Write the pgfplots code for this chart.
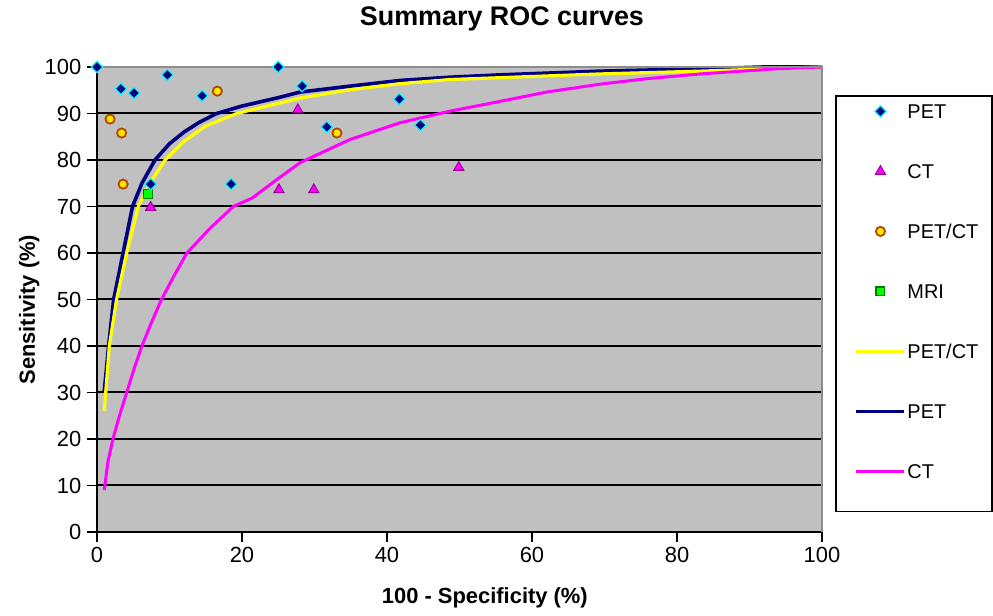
\documentclass[border=0pt]{standalone}
\usepackage{fontspec}
\setmainfont{Liberation Sans}
\usepackage{pgfplots}
\pgfplotsset{compat=1.18}

\definecolor{plotbg}{HTML}{C0C0C0}
\definecolor{plotedge}{HTML}{8C8C8C}
\definecolor{petblue}{HTML}{000080}
\definecolor{petcyan}{HTML}{00FFFF}
\definecolor{ctpink}{HTML}{FF00FF}
\definecolor{ctpurple}{HTML}{990099}
\definecolor{pcyellow}{HTML}{FFE800}
\definecolor{pcbrown}{HTML}{B34700}
\definecolor{mrigreen}{HTML}{00FF00}
\definecolor{mridark}{HTML}{008000}
\definecolor{curveyellow}{HTML}{FFFF00}

\pgfplotsset{
  petmark/.style={only marks, mark=square*, mark size=2.0bp,
    mark options={rotate=45, fill=petblue, draw=petcyan, line width=0.6bp}},
  ctmark/.style={only marks, mark=triangle*, mark size=2.9bp,
    mark options={fill=ctpink, draw=ctpurple, line width=0.5bp}},
  pcmark/.style={only marks, mark=*, mark size=2.3bp,
    mark options={fill=pcyellow, draw=pcbrown, line width=0.9bp}},
  mrimark/.style={only marks, mark=square*, mark size=2.2bp,
    mark options={fill=mrigreen, draw=mridark, line width=0.6bp}},
}

\begin{document}
\begin{tikzpicture}
\begin{axis}[
  at={(0,0)}, anchor=south west,
  scale only axis, width=362.5bp, height=232.5bp,
  xmin=0, xmax=100, ymin=0, ymax=100,
  xtick={0,20,...,100}, ytick={0,10,...,100},
  axis x line*=bottom, axis y line*=left,
  axis line style={black, line width=1bp},
  tick align=outside, major tick length=5bp,
  tick style={black, line width=0.8bp},
  ymajorgrids, grid style={black, line width=1bp},
  axis background/.style={fill=plotbg},
  clip=false,
  /pgf/number format/assume math mode=true,
  tick label style={font=\fontsize{11}{13}\selectfont},
  yticklabel style={inner sep=0pt, anchor=east, xshift=-2.65bp},
  xticklabel style={inner sep=0pt, anchor=north, yshift=-2.5bp},
  title={Summary ROC curves},
  title style={font=\bfseries\fontsize{13.5}{16}\selectfont,
    at={(axis description cs:0.5586,1)}, anchor=base, yshift=14.8bp},
  xlabel={100 - Specificity (\%)},
  xlabel style={font=\bfseries\fontsize{11}{13}\selectfont,
    at={(axis description cs:0.535,0)}, anchor=base, yshift=-36bp},
  ylabel={Sensitivity (\%)},
  ylabel style={font=\bfseries\fontsize{11}{13}\selectfont,
    at={(axis description cs:0,0.478)}, anchor=base, yshift=31bp},
  legend style={draw=none, fill=none,
    at={(axis description cs:1.0445,0.9208)}, anchor=north west,
    inner sep=0pt, row sep=22.8bp, column sep=0.6bp,
    font=\fontsize{10}{12}\selectfont,
    nodes={inner sep=0pt, text height=7.2bp, text depth=0bp}},
  legend cell align=left,
  legend image code/.code={
    \path[draw=none, fill=none] (0bp,-2bp) rectangle (24bp,2bp);
    \draw[mark repeat=2, mark phase=2, #1] plot coordinates {(0bp,0bp) (12bp,0bp) (24bp,0bp)};},
]

% summary curves
\addplot[forget plot, petblue, line width=1.8bp] coordinates {
  (1.0,30.3)(1.3,35)(1.6,40)(2.3,50)(3.6,60)(4.9,70)(6.2,75)(8.0,80)
  (10,83.5)(12,86)(14,88)(16.5,90)(20,91.6)(25,93.4)(28,94.6)(35,95.9)
  (41.8,97.1)(48.7,97.8)(55.6,98.3)(69.4,99.1)(83.2,99.6)(92,100)(100,100)};
\addplot[forget plot, curveyellow, line width=1.6bp] coordinates {
  (1.0,26)(1.2,30)(1.7,40)(2.7,50)(4.1,60)(5.7,70)(7.3,75)(9.4,80)
  (12,84)(15,87.3)(19.3,90)(21.4,90.8)(28,93.3)(34.9,95.1)(41.8,96.4)
  (48.7,97.3)(55.6,97.7)(69.4,98.5)(83.2,99.1)(100,100)};
\addplot[forget plot, ctpink, line width=1.5bp] coordinates {
  (1.0,9)(1.5,15)(2.2,20)(3.1,25)(4.1,30)(5.1,35)(6.2,40)(7.5,45)(8.9,50)
  (10.6,55)(12.4,60)(15.6,65.3)(18.8,70)(21.4,71.8)(25,76)(28,79.4)
  (34.9,84.4)(41.8,88)(48.7,90.5)(55.6,92.6)(62,94.6)(69.4,96.3)(76,97.5)
  (83.2,98.5)(93.7,99.6)(100,100)};

% study points
\addplot[forget plot, mrimark] coordinates {(7.0,72.7)};
\addplot[forget plot, pcmark] coordinates {
  (1.8,88.8)(3.4,85.8)(3.6,74.8)(16.6,94.8)(33.1,85.8)};
\addplot[forget plot, ctmark] coordinates {
  (7.4,69.8)(27.7,90.8)(25.1,73.6)(29.9,73.6)(49.9,78.4)};
\addplot[forget plot, petmark] coordinates {
  (0,100)(3.3,95.3)(5.1,94.4)(9.7,98.3)(14.5,93.8)(25,100)(28.3,95.9)
  (18.5,74.8)(7.4,74.8)(31.7,87.1)(41.7,93.1)(44.6,87.5)};

\draw[plotedge, line width=1.2bp] (rel axis cs:0,1) -- (rel axis cs:1,1) -- (rel axis cs:1,0);

\addlegendimage{petmark}\addlegendentry{PET}
\addlegendimage{ctmark}\addlegendentry{CT}
\addlegendimage{pcmark}\addlegendentry{PET/CT}
\addlegendimage{mrimark}\addlegendentry{MRI}
\addlegendimage{curveyellow, line width=1.6bp}\addlegendentry{PET/CT}
\addlegendimage{petblue, line width=1.8bp}\addlegendentry{PET}
\addlegendimage{ctpink, line width=1.5bp}\addlegendentry{CT}
\end{axis}
\draw[black, line width=0.6bp] (369.5bp,10.25bp) rectangle (447.5bp,218bp);
\path (-48.5bp,-40bp) rectangle (448bp,262bp);
\end{tikzpicture}
\end{document}
